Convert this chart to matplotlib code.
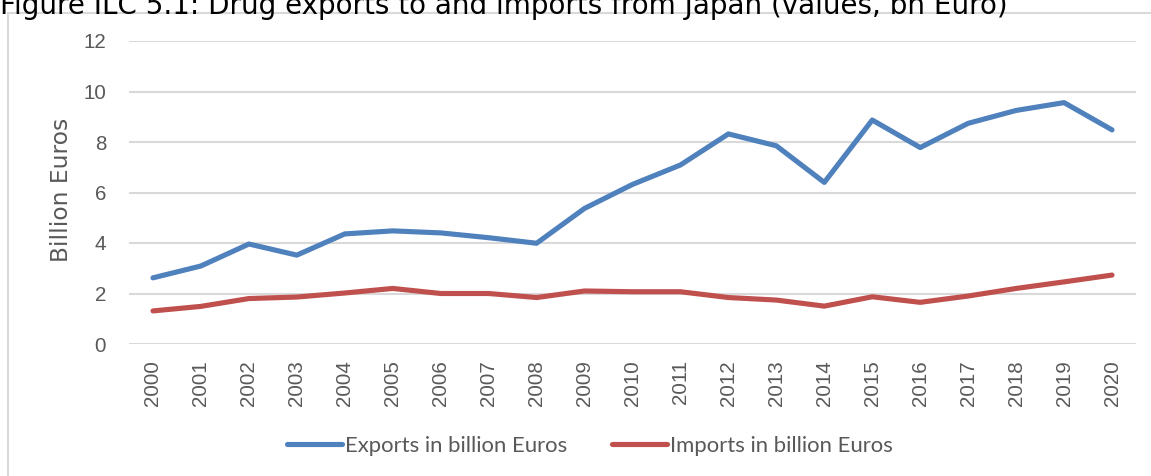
import matplotlib
matplotlib.use("Agg")
import matplotlib.pyplot as plt
from matplotlib.patches import Rectangle

years = [str(y) for y in range(2000, 2021)]
exports = [2.62, 3.09, 3.96, 3.52, 4.36, 4.48, 4.40, 4.21, 3.99, 5.37, 6.32,
           7.09, 8.32, 7.85, 6.40, 8.87, 7.78, 8.74, 9.25, 9.56, 8.48]
imports = [1.31, 1.49, 1.80, 1.86, 2.02, 2.20, 2.00, 2.00, 1.84, 2.10, 2.07,
           2.07, 1.84, 1.74, 1.50, 1.87, 1.65, 1.90, 2.20, 2.46, 2.73]

series_labels = ["Exports in billion Euros", "Imports in billion Euros"]
title = "Figure ILC 5.1: Drug exports to and imports from Japan (values, bn Euro)"

blue = "#4F81BD"
red = "#C0504D"
grey_text = "#595959"
grid_col = "#D9D9D9"

W, H = 1151, 476
fig = plt.figure(figsize=(W / 100, H / 100), dpi=100)

# chart area border, runs off the right and bottom edges
fig.patches.append(Rectangle((8 / W, -0.1), 1.2, 1 - 13 / H + 0.1,
                             transform=fig.transFigure, fill=False,
                             edgecolor=grid_col, linewidth=1.5))

fig.text(0, 1 - 14 / H, title, ha="left", va="baseline",
         fontsize=20, family="DejaVu Sans", color="black")

ax = fig.add_axes([129 / W, 1 - 344 / H, 1007 / W, 303 / H])
x = list(range(len(years)))
ax.plot(x, exports, color=blue, lw=3.7, solid_capstyle="round",
        solid_joinstyle="round", label=series_labels[0], zorder=3)
ax.plot(x, imports, color=red, lw=3.7, solid_capstyle="round",
        solid_joinstyle="round", label=series_labels[1], zorder=3)

ax.set_xlim(-0.5, len(years) - 0.5)
ax.set_ylim(0, 12)
ax.set_yticks(range(0, 13, 2))
ax.set_xticks(x)
ax.set_xticklabels(years, rotation=90)
for spine in ax.spines.values():
    spine.set_visible(False)
ax.grid(axis="y", color=grid_col, linewidth=1.5, zorder=0)
ax.set_axisbelow(True)
ax.tick_params(axis="both", length=0, labelcolor=grey_text, labelsize=14.8)
ax.tick_params(axis="y", pad=16.5)
ax.tick_params(axis="x", pad=11.5)
for lbl in ax.get_xticklabels() + ax.get_yticklabels():
    lbl.set_family("Liberation Sans")

fig.text(61 / W, 1 - 190 / H, "Billion Euros", rotation=90, ha="center",
         va="center", fontsize=16.8, family="DejaVu Sans", color=grey_text)

leg = fig.legend(loc="center", bbox_to_anchor=(590 / W, 1 - 446 / H), ncol=2,
                 frameon=False, handlelength=2.5, handletextpad=0.15,
                 columnspacing=2.0, prop={"family": "Lato", "size": 15.9})
for t in leg.get_texts():
    t.set_color(grey_text)

fig.savefig("out.png", dpi=100)
